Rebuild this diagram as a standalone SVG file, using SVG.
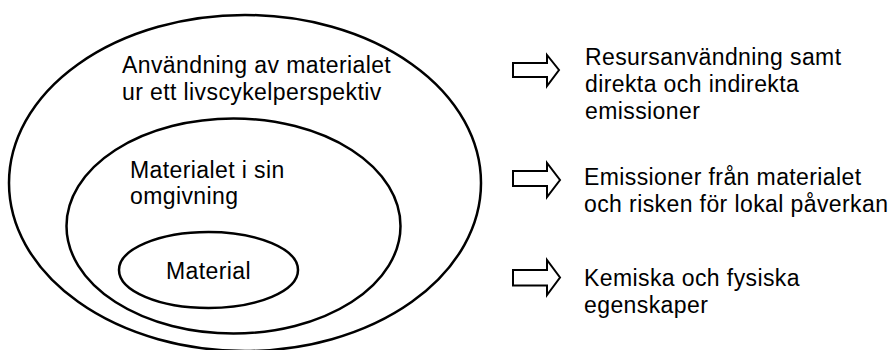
<svg xmlns="http://www.w3.org/2000/svg" width="893" height="350" viewBox="0 0 893 350">
<style>
.e{fill:none;stroke:#000;stroke-width:2.5}
.a{fill:#fff;stroke:#000;stroke-width:2;stroke-linejoin:miter}
text{font-family:"Liberation Sans",Arial,sans-serif;font-size:23px;letter-spacing:0.4px;fill:#000}
</style>
<rect width="893" height="350" fill="#fff"/>
<g id="outer">
<ellipse class="e" cx="245" cy="183" rx="236" ry="168"/>
<text x="122" y="73">Användning av materialet</text>
<text x="122" y="100">ur ett livscykelperspektiv</text>
</g>
<g id="middle">
<ellipse class="e" cx="233.5" cy="226" rx="167" ry="107.5"/>
<text x="130" y="178">Materialet i sin</text>
<text x="130" y="204">omgivning</text>
</g>
<g id="inner">
<ellipse class="e" cx="208.5" cy="270" rx="89.5" ry="38"/>
<text x="166" y="279">Material</text>
</g>
<g id="connectors">
<path class="a" d="M513,63 H547 V55 L559,70 L547,86 V77 H513 Z"/>
<path class="a" d="M513,171 H547 V163 L560,180 L547,197 V186 H513 Z"/>
<path class="a" d="M513,270 H547 V260 L560,277.5 L547,295 V285.5 H513 Z"/>
</g>
<g id="label1">
<text x="585" y="65">Resursanvändning samt</text>
<text x="585" y="92">direkta och indirekta</text>
<text x="585" y="119">emissioner</text>
</g>
<g id="label2">
<text x="584" y="185">Emissioner från materialet</text>
<text x="584" y="212">och risken för lokal påverkan</text>
</g>
<g id="label3">
<text x="584" y="286">Kemiska och fysiska</text>
<text x="584" y="313">egenskaper</text>
</g>
</svg>
